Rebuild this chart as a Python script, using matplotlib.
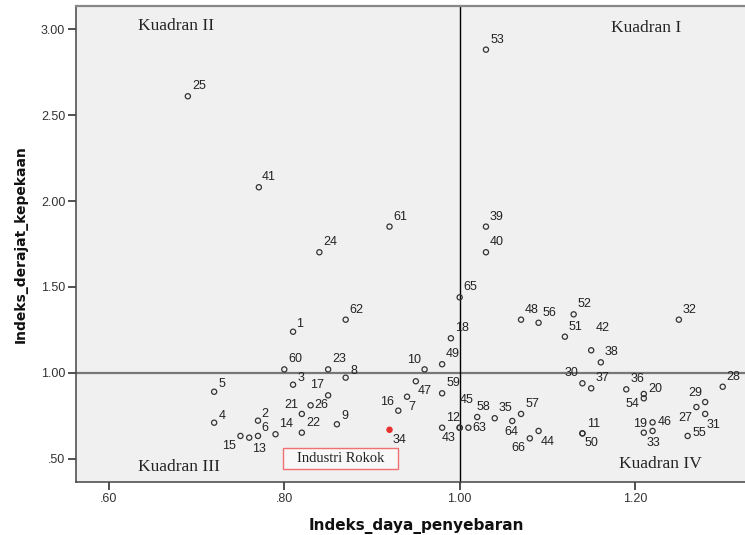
import matplotlib.pyplot as plt
from matplotlib.patches import Rectangle

# nomor sektor, indeks daya penyebaran (x) dan indeks derajat kepekaan (y)
sektor = list(range(1, 67))
daya_penyebaran = [
    0.810, 0.770, 0.810, 0.720, 0.720, 0.770, 0.940, 0.870, 0.860, 0.960,
    1.140, 1.000, 0.760, 0.790, 0.750, 0.930, 0.850, 0.990, 1.210, 1.210,
    0.820, 0.820, 0.850, 0.840, 0.690, 0.830, 1.270, 1.300, 1.280, 1.140,
    1.280, 1.250, 1.220, 0.920, 1.040, 1.190, 1.150, 1.161, 1.030, 1.030,
    0.771, 1.150, 0.980, 1.090, 1.000, 1.220, 0.950, 1.070, 0.980, 1.140,
    1.120, 1.130, 1.030, 1.210, 1.260, 1.090, 1.070, 1.020, 0.980, 0.800,
    0.920, 0.870, 1.010, 1.060, 1.000, 1.080,
]
derajat_kepekaan = [
    1.240, 0.723, 0.932, 0.711, 0.891, 0.634, 0.862, 0.973, 0.702, 1.021,
    0.649, 0.682, 0.624, 0.644, 0.634, 0.781, 0.870, 1.202, 0.653, 0.878,
    0.762, 0.653, 1.021, 1.702, 2.609, 0.812, 0.802, 0.920, 0.831, 0.940,
    0.762, 1.310, 0.663, 0.670, 0.737, 0.905, 0.911, 1.062, 1.851, 1.702,
    2.080, 1.132, 0.682, 0.663, 0.682, 0.713, 0.952, 1.310, 1.051, 0.649,
    1.211, 1.341, 2.880, 0.853, 0.634, 1.292, 0.762, 0.744, 0.882, 1.021,
    1.851, 1.310, 0.682, 0.721, 1.440, 0.620,
]
sektor_rokok = 34

# posisi label angka relatif terhadap titik (pixel)
label_offset = {
    1: (7, 8), 2: (7, 7), 3: (8, 7), 4: (8, 7), 5: (8, 8), 6: (7, 8),
    7: (5, -10), 8: (8, 7), 9: (8, 8), 10: (-11, 9), 11: (11, 9),
    12: (-7, 10), 13: (10, -11), 14: (11, 10), 15: (-11, -10),
    16: (-11, 9), 17: (-11, 10), 19: (-4, 9), 20: (12, 5), 21: (-11, 9),
    26: (11, 0), 27: (-11, -11), 29: (-10, 9), 30: (-11, 10),
    31: (8, -11), 33: (1, -12), 34: (10, -10), 41: (10, 10), 42: (12, 22),
    43: (7, -10), 44: (9, -11), 45: (7, 28), 46: (12, 0), 47: (9, -10),
    50: (9, -10), 54: (-11, -6), 55: (12, 3), 58: (6, 10), 63: (11, 0),
    64: (-1, -11), 66: (-11, -10),
}

fig = plt.figure(figsize=(7.45, 5.35), dpi=100)
ax = fig.add_axes([76.3 / 745, 52.7 / 535, 680.7 / 745, 476.6 / 535])
ax.set_facecolor("#F0F0F0")

warna = ["#E8312F" if s == sektor_rokok else "none" for s in sektor]
tepi = ["#E8312F" if s == sektor_rokok else "#333333" for s in sektor]
ax.scatter(daya_penyebaran, derajat_kepekaan, s=14, facecolors=warna,
           edgecolors=tepi, linewidths=0.9, zorder=3)

for s, x, y in zip(sektor, daya_penyebaran, derajat_kepekaan):
    dx, dy = label_offset.get(s, (11, 10))
    ax.annotate(str(s), (x, y), xytext=(dx, dy), textcoords="offset pixels",
                ha="center", va="center", fontsize=9,
                family="Liberation Sans", color="#222222", zorder=4)

# garis rata-rata (indeks = 1)
ax.axhline(1.0, color="#777777", lw=1.6, zorder=1)
ax.axvline(1.0, color="black", lw=1.0, zorder=1, clip_on=False)

serif = dict(family="Liberation Serif", fontsize=12.5, color="#222222")
ax.text(0.677, 3.02, "Kuadran II", ha="center", va="center", **serif)
ax.text(1.213, 3.005, "Kuadran I", ha="center", va="center", **serif)
ax.text(0.680, 0.455, "Kuadran III", ha="center", va="center", **serif)
ax.text(1.229, 0.472, "Kuadran IV", ha="center", va="center", **serif)

ax.add_patch(Rectangle((0.799, 0.442), 0.1305, 0.120, facecolor="#F8F8F8",
                       edgecolor="#F07070", lw=1.0, zorder=2))
ax.text(0.864, 0.502, "Industri Rokok", ha="center", va="center",
        family="Liberation Serif", fontsize=10.5, color="#222222", zorder=3)

ax.set_xlim(0.5628, 1.3391)
ax.set_ylim(0.3645, 3.1355)
ax.set_xticks([0.6, 0.8, 1.0, 1.2])
ax.set_xticklabels([".60", ".80", "1.00", "1.20"])
ax.set_yticks([0.5, 1.0, 1.5, 2.0, 2.5, 3.0])
ax.set_yticklabels([".50", "1.00", "1.50", "2.00", "2.50", "3.00"])
ax.tick_params(length=6, width=1.2, color="#333333", labelsize=9,
               labelcolor="#333333", pad=2)
for lab in ax.get_xticklabels() + ax.get_yticklabels():
    lab.set_family("Liberation Sans")

for sp in ax.spines.values():
    sp.set_color("#444444")
    sp.set_linewidth(1.1)
ax.spines["top"].set_color("#888888")
ax.spines["top"].set_linewidth(1.6)
ax.spines["right"].set_visible(False)

ax.set_xlabel("Indeks_daya_penyebaran", fontsize=11, fontweight="bold",
              family="DejaVu Sans", color="#111111")
ax.set_ylabel("Indeks_derajat_kepekaan", fontsize=10, fontweight="bold",
              family="DejaVu Sans", color="#111111")
ax.xaxis.set_label_coords(0.5, -0.075)
ax.yaxis.set_label_coords(-0.071, 0.5)

fig.savefig("out.png", dpi=100)
